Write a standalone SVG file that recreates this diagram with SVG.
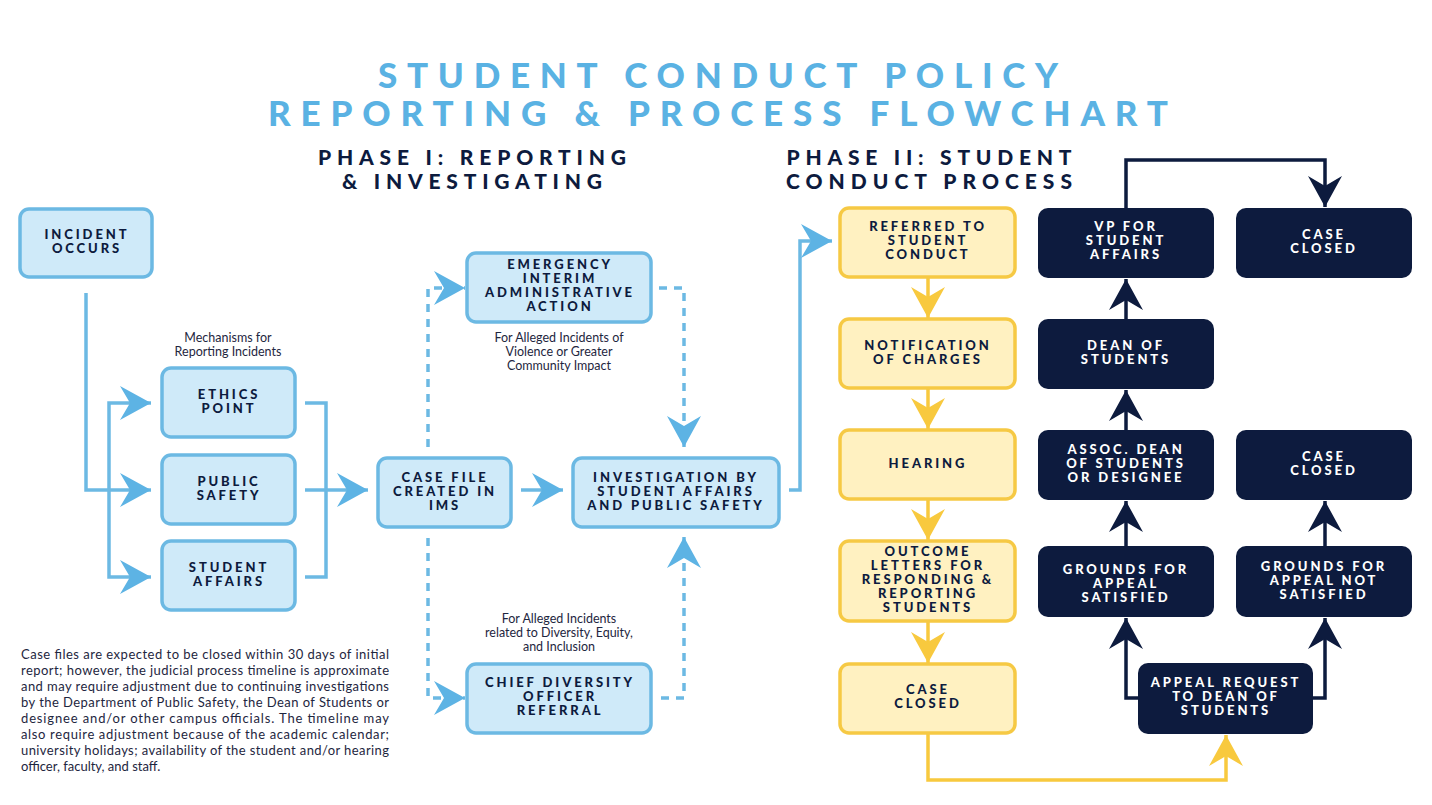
<svg xmlns="http://www.w3.org/2000/svg" width="1432" height="805" viewBox="0 0 1432 805">
<style>
text{font-family:"Lato","Noto Sans","DejaVu Sans",sans-serif}
.title{font-size:35px;font-weight:900;fill:#5AB2E3;text-anchor:middle}
.phase{font-size:21px;font-weight:900;fill:#0D1B3E;text-anchor:middle}
.lb rect{fill:#CFEAF9;stroke:#6CB9E3;stroke-width:3.5}
.yl rect{fill:#FFF1C1;stroke:#F6C944;stroke-width:3.5}
.nv rect{fill:#0D1B3E}
.bt{font-size:13px;font-weight:900;letter-spacing:2.9px;text-anchor:middle;fill:#0D1B3E}
.nv .bt{fill:#FFFFFF}
.note{font-size:12.5px;fill:#1E2640;text-anchor:middle}
.foot{font-size:13px;fill:#1E2640}
.cb{fill:none;stroke:#6CB9E3;stroke-width:3.5}
.dash{stroke-dasharray:8 7}
.cy{fill:none;stroke:#F8C93E;stroke-width:3.5}
.cn{fill:none;stroke:#0D1B3E;stroke-width:3.5}
</style>
<defs>
<marker id="ab" markerUnits="userSpaceOnUse" viewBox="-33 -18 34 36" markerWidth="34" markerHeight="36" refX="0" refY="0" orient="auto"><path d="M0,0 L-31,-17 L-21,0 L-31,17 Z" fill="#5DB3E4"/></marker>
<marker id="ay" markerUnits="userSpaceOnUse" viewBox="-33 -18 34 36" markerWidth="34" markerHeight="36" refX="0" refY="0" orient="auto"><path d="M0,0 L-31,-17 L-21,0 L-31,17 Z" fill="#F8C93E"/></marker>
<marker id="an" markerUnits="userSpaceOnUse" viewBox="-33 -18 34 36" markerWidth="34" markerHeight="36" refX="0" refY="0" orient="auto"><path d="M0,0 L-31,-17 L-21,0 L-31,17 Z" fill="#0D1B3E"/></marker>
</defs>
<rect width="1432" height="805" fill="#FFFFFF"/>

<g id="titles">
<text class="title" x="718" y="88" textLength="680" lengthAdjust="spacing">STUDENT CONDUCT POLICY</text>
<text class="title" x="718" y="126" textLength="900" lengthAdjust="spacing">REPORTING &amp; PROCESS FLOWCHART</text>
<text class="phase" x="472" y="165" textLength="308" lengthAdjust="spacing">PHASE I: REPORTING</text>
<text class="phase" x="472" y="189" textLength="260" lengthAdjust="spacing">&amp; INVESTIGATING</text>
<text class="phase" x="929" y="165" textLength="285" lengthAdjust="spacing">PHASE II: STUDENT</text>
<text class="phase" x="929" y="189" textLength="286" lengthAdjust="spacing">CONDUCT PROCESS</text>
</g>

<g id="connectors">
<path class="cb" d="M86,293 V490 H151" marker-end="url(#ab)"/>
<path class="cb" d="M109,490 V403 H151" marker-end="url(#ab)"/>
<path class="cb" d="M109,490 V577 H151" marker-end="url(#ab)"/>
<path class="cb" d="M305,403 H326 V577 H305"/>
<path class="cb" d="M305,490 H368" marker-end="url(#ab)"/>
<path class="cb" d="M521,490 H563" marker-end="url(#ab)"/>
<path class="cb dash" d="M428,447 V288 H465" marker-end="url(#ab)"/>
<path class="cb dash" d="M659,288 H684 V447" marker-end="url(#ab)"/>
<path class="cb dash" d="M428,538 V698 H465" marker-end="url(#ab)"/>
<path class="cb dash" d="M661,698 H684 V537" marker-end="url(#ab)"/>
<path class="cb" d="M789,490 H800 V241 H832" marker-end="url(#ab)"/>
<path class="cy" d="M928,277 V318" marker-end="url(#ay)"/>
<path class="cy" d="M928,388 V429" marker-end="url(#ay)"/>
<path class="cy" d="M928,499 V540" marker-end="url(#ay)"/>
<path class="cy" d="M928,621 V663" marker-end="url(#ay)"/>
<path class="cy" d="M928,733 V780 H1226 V735" marker-end="url(#ay)"/>
<path class="cn" d="M1126,546 V501" marker-end="url(#an)"/>
<path class="cn" d="M1126,430 V390" marker-end="url(#an)"/>
<path class="cn" d="M1126,319 V279" marker-end="url(#an)"/>
<path class="cn" d="M1126,208 V160 H1325 V207" marker-end="url(#an)"/>
<path class="cn" d="M1325,546 V501" marker-end="url(#an)"/>
<path class="cn" d="M1140,698 H1126 V618" marker-end="url(#an)"/>
<path class="cn" d="M1311,698 H1325 V618" marker-end="url(#an)"/>
</g>

<g id="incident" class="lb"><rect x="20" y="209" width="132" height="68" rx="9"/>
<text class="bt" x="87" y="239">INCIDENT</text><text class="bt" x="87" y="253">OCCURS</text></g>
<g id="ethics" class="lb"><rect x="162" y="368" width="133" height="69" rx="9"/>
<text class="bt" x="229" y="399">ETHICS</text><text class="bt" x="229" y="413">POINT</text></g>
<g id="publicsafety" class="lb"><rect x="162" y="455" width="133" height="69" rx="9"/>
<text class="bt" x="229" y="486">PUBLIC</text><text class="bt" x="229" y="500">SAFETY</text></g>
<g id="studentaffairs" class="lb"><rect x="162" y="541" width="133" height="69" rx="9"/>
<text class="bt" x="229" y="572">STUDENT</text><text class="bt" x="229" y="586">AFFAIRS</text></g>
<g id="casefile" class="lb"><rect x="378" y="458" width="133" height="69" rx="9"/>
<text class="bt" x="445" y="482">CASE FILE</text><text class="bt" x="445" y="496">CREATED IN</text><text class="bt" x="445" y="510">IMS</text></g>
<g id="emergency" class="lb"><rect x="467" y="253" width="184" height="69" rx="9"/>
<text class="bt" x="560" y="269">EMERGENCY</text><text class="bt" x="560" y="283">INTERIM</text><text class="bt" x="560" y="297">ADMINISTRATIVE</text><text class="bt" x="560" y="311">ACTION</text></g>
<g id="investigation" class="lb"><rect x="573" y="458" width="206" height="69" rx="9"/>
<text class="bt" x="676" y="482">INVESTIGATION BY</text><text class="bt" x="676" y="496">STUDENT AFFAIRS</text><text class="bt" x="676" y="510">AND PUBLIC SAFETY</text></g>
<g id="chiefdiversity" class="lb"><rect x="467" y="664" width="184" height="69" rx="9"/>
<text class="bt" x="560" y="687">CHIEF DIVERSITY</text><text class="bt" x="560" y="701">OFFICER</text><text class="bt" x="560" y="715">REFERRAL</text></g>

<g id="referred" class="yl"><rect x="840" y="208" width="175" height="69" rx="9"/>
<text class="bt" x="928" y="231">REFERRED TO</text><text class="bt" x="928" y="245">STUDENT</text><text class="bt" x="928" y="259">CONDUCT</text></g>
<g id="notification" class="yl"><rect x="840" y="319" width="175" height="69" rx="9"/>
<text class="bt" x="928" y="350">NOTIFICATION</text><text class="bt" x="928" y="364">OF CHARGES</text></g>
<g id="hearing" class="yl"><rect x="840" y="430" width="175" height="69" rx="9"/>
<text class="bt" x="928" y="468">HEARING</text></g>
<g id="outcome" class="yl"><rect x="840" y="541" width="175" height="80" rx="9"/>
<text class="bt" x="928" y="556">OUTCOME</text><text class="bt" x="928" y="570">LETTERS FOR</text><text class="bt" x="928" y="584">RESPONDING &amp;</text><text class="bt" x="928" y="598">REPORTING</text><text class="bt" x="928" y="612">STUDENTS</text></g>
<g id="caseclosed1" class="yl"><rect x="840" y="664" width="175" height="69" rx="9"/>
<text class="bt" x="928" y="694">CASE</text><text class="bt" x="928" y="708">CLOSED</text></g>

<g id="vp" class="nv"><rect x="1038" y="208" width="176" height="70" rx="10"/>
<text class="bt" x="1126" y="231">VP FOR</text><text class="bt" x="1126" y="245">STUDENT</text><text class="bt" x="1126" y="259">AFFAIRS</text></g>
<g id="caseclosed2" class="nv"><rect x="1236" y="208" width="176" height="70" rx="10"/>
<text class="bt" x="1324" y="239">CASE</text><text class="bt" x="1324" y="253">CLOSED</text></g>
<g id="dean" class="nv"><rect x="1038" y="319" width="176" height="70" rx="10"/>
<text class="bt" x="1126" y="350">DEAN OF</text><text class="bt" x="1126" y="364">STUDENTS</text></g>
<g id="assocdean" class="nv"><rect x="1038" y="430" width="176" height="70" rx="10"/>
<text class="bt" x="1126" y="454">ASSOC. DEAN</text><text class="bt" x="1126" y="468">OF STUDENTS</text><text class="bt" x="1126" y="482">OR DESIGNEE</text></g>
<g id="caseclosed3" class="nv"><rect x="1236" y="430" width="176" height="70" rx="10"/>
<text class="bt" x="1324" y="461">CASE</text><text class="bt" x="1324" y="475">CLOSED</text></g>
<g id="groundssatisfied" class="nv"><rect x="1038" y="546" width="176" height="71" rx="10"/>
<text class="bt" x="1126" y="574">GROUNDS FOR</text><text class="bt" x="1126" y="588">APPEAL</text><text class="bt" x="1126" y="602">SATISFIED</text></g>
<g id="groundsnot" class="nv"><rect x="1236" y="546" width="176" height="71" rx="10"/>
<text class="bt" x="1324" y="571">GROUNDS FOR</text><text class="bt" x="1324" y="585">APPEAL NOT</text><text class="bt" x="1324" y="599">SATISFIED</text></g>
<g id="appealrequest" class="nv"><rect x="1138" y="663" width="175" height="71" rx="10"/>
<text class="bt" x="1226" y="687">APPEAL REQUEST</text><text class="bt" x="1226" y="701">TO DEAN OF</text><text class="bt" x="1226" y="715">STUDENTS</text></g>

<g id="annotations">
<text class="note" x="228" y="342">Mechanisms for</text>
<text class="note" x="228" y="356">Reporting Incidents</text>
<text class="note" x="559" y="342">For Alleged Incidents of</text>
<text class="note" x="559" y="356">Violence or Greater</text>
<text class="note" x="559" y="370">Community Impact</text>
<text class="note" x="559" y="623">For Alleged Incidents</text>
<text class="note" x="559" y="637">related to Diversity, Equity,</text>
<text class="note" x="559" y="651">and Inclusion</text>
</g>

<g id="footnote">
<text class="foot" x="21" y="659" textLength="368" lengthAdjust="spacing">Case files are expected to be closed within 30 days of initial</text>
<text class="foot" x="21" y="675" textLength="368" lengthAdjust="spacing">report; however, the judicial process timeline is approximate</text>
<text class="foot" x="21" y="691" textLength="368" lengthAdjust="spacing">and may require adjustment due to continuing investigations</text>
<text class="foot" x="21" y="707" textLength="368" lengthAdjust="spacing">by the Department of Public Safety, the Dean of Students or</text>
<text class="foot" x="21" y="723" textLength="368" lengthAdjust="spacing">designee and/or other campus officials. The timeline may</text>
<text class="foot" x="21" y="739" textLength="368" lengthAdjust="spacing">also require adjustment because of the academic calendar;</text>
<text class="foot" x="21" y="755" textLength="368" lengthAdjust="spacing">university holidays; availability of the student and/or hearing</text>
<text class="foot" x="21" y="771">officer, faculty, and staff.</text>
</g>
</svg>
